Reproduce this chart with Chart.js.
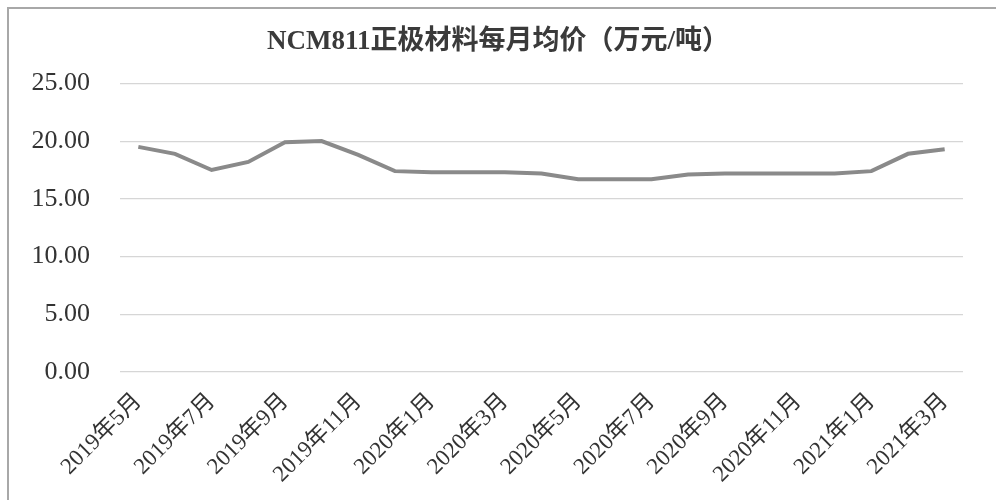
<!doctype html>
<html>
<head>
    <meta charset="utf-8">
    <title>NCM811正极材料每月均价</title>
    <script src="https://cdn.jsdelivr.net/npm/chart.js@4.4.1/dist/chart.umd.min.js"></script>
    <style>
    body { margin: 0; background: #fff; }
    #wrap { width: 996px; height: 500px; }
    </style>
</head>
<body>
    <div id="wrap"><canvas id="canvas"></canvas></div>
    <script>
    var months = ["2019年5月", "2019年6月", "2019年7月", "2019年8月", "2019年9月", "2019年10月",
        "2019年11月", "2019年12月", "2020年1月", "2020年2月", "2020年3月", "2020年4月",
        "2020年5月", "2020年6月", "2020年7月", "2020年8月", "2020年9月", "2020年10月",
        "2020年11月", "2020年12月", "2021年1月", "2021年2月", "2021年3月"];
    var prices = [19.5, 18.9, 17.5, 18.2, 19.9, 20.0, 18.8, 17.4, 17.3, 17.3, 17.3, 17.2,
        16.7, 16.7, 16.7, 17.1, 17.2, 17.2, 17.2, 17.2, 17.4, 18.9, 19.3];
    var yTicks = [0, 5, 10, 15, 20, 25];

    var serif = '"Liberation Serif", "Noto Sans CJK SC", serif';

    // scanned frame: left and top edge
    var framePlugin = {
        id: 'frame',
        afterDraw: function(chart) {
            var ctx = chart.ctx;
            ctx.save();
            ctx.strokeStyle = '#a8a8a8';
            ctx.lineWidth = 2;
            ctx.beginPath();
            ctx.moveTo(8, 500);
            ctx.lineTo(8, 8);
            ctx.lineTo(996, 8);
            ctx.stroke();
            ctx.restore();
        }
    };

    var config = {
        type: 'line',
        data: {
            labels: months,
            datasets: [{
                label: '均价',
                data: prices,
                borderColor: '#8a8a8a',
                borderWidth: 4,
                pointRadius: 0,
                tension: 0,
                fill: false
            }]
        },
        options: {
            responsive: true,
            maintainAspectRatio: false,
            animation: false,
            layout: { padding: 0 },
            plugins: {
                legend: { display: false },
                tooltip: { enabled: false },
                title: {
                    display: true,
                    text: 'NCM811正极材料每月均价（万元/吨）',
                    color: '#3a3a3a',
                    font: { family: serif, size: 27, weight: 'bold' },
                    padding: { top: 26, bottom: 25 }
                }
            },
            scales: {
                x: {
                    offset: true,
                    grid: { display: false, drawTicks: false },
                    border: { display: false },
                    afterFit: function(scale) { scale.height = 128; },
                    ticks: {
                        autoSkip: false,
                        maxRotation: 45,
                        minRotation: 45,
                        padding: 16,
                        color: '#333',
                        font: { family: serif, size: 23 },
                        callback: function(v, i) {
                            return i % 2 === 0 ? this.getLabelForValue(v) : '';
                        }
                    }
                },
                y: {
                    min: 0,
                    max: 25,
                    afterFit: function(scale) { scale.width = 120; },
                    afterBuildTicks: function(scale) {
                        scale.ticks = yTicks.map(function(v) { return { value: v }; });
                    },
                    grid: { color: '#d6d6d6', lineWidth: 1.2, drawTicks: false },
                    border: { display: false },
                    ticks: {
                        padding: 30,
                        color: '#333',
                        font: { family: serif, size: 26 },
                        callback: function(v) { return v.toFixed(2); }
                    }
                },
                // empty right-hand gap so the title stays centred on the page
                gap: {
                    type: 'linear',
                    position: 'right',
                    afterFit: function(scale) { scale.width = 33; },
                    grid: { display: false, drawTicks: false },
                    border: { display: false },
                    ticks: { display: false }
                }
            }
        },
        plugins: [framePlugin]
    };

    window.onload = function() {
        window.myLine = new Chart(document.getElementById('canvas'), config);
    };
    </script>
</body>
</html>
